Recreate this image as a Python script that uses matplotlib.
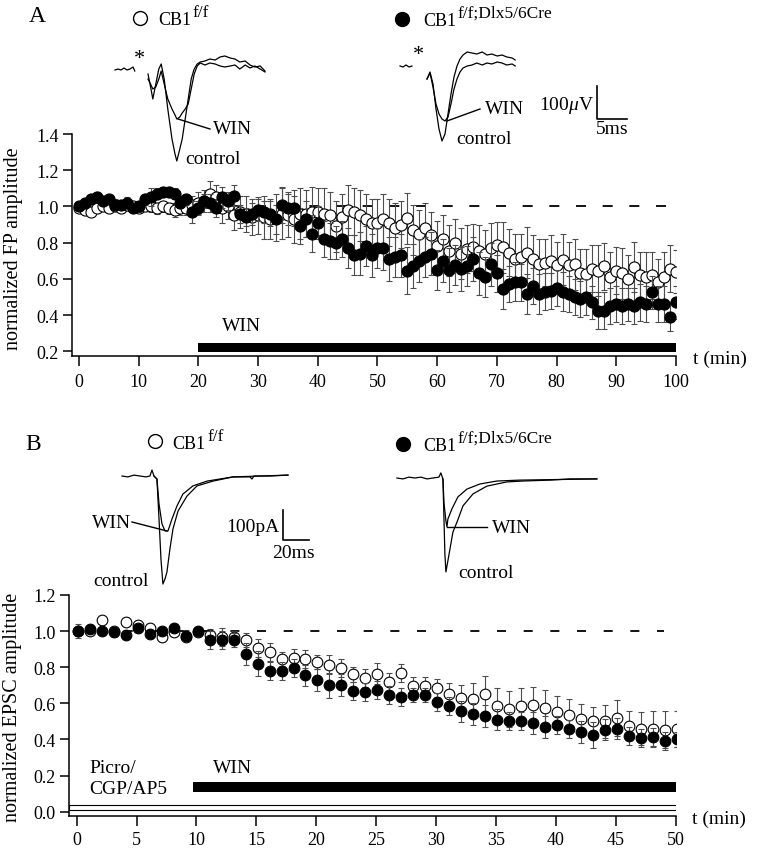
#!/usr/bin/env python
"""
Time course of normalized FP (A) and EPSC (B) amplitude during WIN application,
CB1 f/f (open) vs CB1 f/f;Dlx5/6Cre (filled), with sample traces on top.
"""
import sys
import matplotlib
matplotlib.use('Agg')
import matplotlib.pyplot as plt
from matplotlib.lines import Line2D

GOOD_RET = 0

# figure size in pixels
W = 757
H = 853

tick_font_size = 13
label_font_size = 14.5
text_font_size = 14
err_color = '#4d4d4d'

# ---------------- panel A: field potentials ----------------
a_time = list(range(101))  # min
a_ff = [0.99, 0.98, 0.97, 0.99, 1.00, 0.99, 1.00, 0.99, 1.01, 1.00,
        0.99, 1.00, 1.00, 0.99, 1.00, 0.99, 0.98, 0.99, 0.99, 1.01,
        1.02, 1.03, 1.07, 1.05, 0.99, 1.00, 0.95, 0.97, 0.96, 0.94,
        0.95, 0.94, 0.93, 0.94, 0.96, 0.95, 0.93, 0.96, 0.96, 0.97,
        0.97, 0.96, 0.95, 0.89, 0.94, 0.98, 0.97, 0.95, 0.93, 0.91,
        0.91, 0.93, 0.91, 0.88, 0.90, 0.935, 0.87, 0.85, 0.88, 0.84,
        0.78, 0.82, 0.755, 0.80, 0.74, 0.765, 0.775, 0.755, 0.74, 0.77,
        0.785, 0.775, 0.745, 0.71, 0.72, 0.745, 0.71, 0.68, 0.69, 0.70,
        0.675, 0.705, 0.675, 0.68, 0.635, 0.625, 0.655, 0.645, 0.67, 0.61,
        0.645, 0.63, 0.60, 0.665, 0.62, 0.61, 0.62, 0.58, 0.61, 0.655, 0.64]
a_ff_err = [0.02, 0.02, 0.02, 0.02, 0.02, 0.02, 0.02, 0.02, 0.03, 0.02,
            0.02, 0.02, 0.03, 0.03, 0.03, 0.03, 0.04, 0.04, 0.04, 0.05,
            0.06, 0.06, 0.07, 0.07, 0.08, 0.07, 0.08, 0.09, 0.10, 0.10,
            0.10, 0.12, 0.11, 0.13, 0.14, 0.12, 0.13, 0.14, 0.13, 0.14,
            0.13, 0.14, 0.13, 0.14, 0.13, 0.14, 0.13, 0.14, 0.14, 0.13,
            0.13, 0.14, 0.13, 0.14, 0.13, 0.14, 0.14, 0.13, 0.14, 0.13,
            0.14, 0.13, 0.14, 0.13, 0.14, 0.13, 0.13, 0.14, 0.13, 0.14,
            0.13, 0.14, 0.13, 0.14, 0.13, 0.14, 0.13, 0.14, 0.13, 0.14,
            0.13, 0.14, 0.13, 0.14, 0.13, 0.14, 0.13, 0.14, 0.13, 0.14,
            0.13, 0.14, 0.13, 0.14, 0.13, 0.14, 0.13, 0.13, 0.14, 0.13, 0.12]
a_cre = [1.00, 1.02, 1.04, 1.05, 1.03, 1.04, 1.01, 1.01, 1.02, 0.99,
         1.00, 1.04, 1.05, 1.07, 1.08, 1.08, 1.07, 1.02, 1.04, 0.97,
         0.99, 1.03, 1.02, 0.99, 1.05, 1.03, 1.06, 0.96, 0.94, 0.96,
         0.98, 0.97, 0.96, 0.93, 1.01, 0.99, 0.99, 0.89, 0.93, 0.85,
         0.91, 0.82, 0.81, 0.80, 0.82, 0.77, 0.73, 0.74, 0.78, 0.73,
         0.77, 0.77, 0.71, 0.72, 0.73, 0.645, 0.67, 0.70, 0.72, 0.74,
         0.65, 0.70, 0.65, 0.675, 0.655, 0.67, 0.71, 0.63, 0.61, 0.68,
         0.63, 0.545, 0.57, 0.585, 0.58, 0.515, 0.56, 0.515, 0.53, 0.535,
         0.55, 0.53, 0.515, 0.50, 0.49, 0.50, 0.47, 0.425, 0.425, 0.45,
         0.46, 0.45, 0.46, 0.45, 0.47, 0.46, 0.525, 0.46, 0.46, 0.39, 0.47]
a_cre_err = [0.02, 0.02, 0.02, 0.03, 0.02, 0.02, 0.03, 0.02, 0.03, 0.02,
             0.03, 0.03, 0.05, 0.03, 0.03, 0.03, 0.03, 0.03, 0.03, 0.06,
             0.04, 0.04, 0.05, 0.05, 0.06, 0.05, 0.06, 0.05, 0.05, 0.06,
             0.06, 0.06, 0.07, 0.08, 0.10, 0.09, 0.10, 0.10, 0.10, 0.10,
             0.09, 0.10, 0.10, 0.09, 0.10, 0.11, 0.11, 0.12, 0.11, 0.12,
             0.11, 0.12, 0.12, 0.11, 0.12, 0.13, 0.12, 0.12, 0.11, 0.12,
             0.11, 0.12, 0.12, 0.11, 0.12, 0.11, 0.12, 0.12, 0.11, 0.12,
             0.10, 0.11, 0.10, 0.11, 0.10, 0.11, 0.10, 0.11, 0.10, 0.10,
             0.10, 0.11, 0.10, 0.10, 0.10, 0.10, 0.09, 0.10, 0.10, 0.10,
             0.10, 0.10, 0.09, 0.10, 0.10, 0.10, 0.09, 0.10, 0.10, 0.08, 0.09]
a_win = [20, 100]  # WIN application, min
a_xticks = [0, 10, 20, 30, 40, 50, 60, 70, 80, 90, 100]
a_yticks = [0.2, 0.4, 0.6, 0.8, 1.0, 1.2, 1.4]

# sample FP traces (ms, uV); left = CB1 f/f, right = CB1 f/f;Dlx5/6Cre
a_pre_t = [0, 0.5, 1.0, 1.5, 2.0, 2.5, 3.0, 3.3]
a_pre_v = [0, 3, 0, 6, 0, 3, 9, -3]
a_left_t = [5.5, 6.0, 6.3, 6.8, 7.3, 7.7, 8.2, 8.8, 9.5, 10.0, 10.3, 10.8, 11.2, 11.7, 12.2, 12.7,
            13.2, 13.7, 14.2, 15.0, 15.8, 16.7, 17.5, 18.3, 19.2, 20.0, 20.8, 21.7, 22.5, 23.3, 24.2, 25.0]
a_left_ctrl = [-12, -57, -87, -42, 3, 18, -27, -117, -207, -252, -273, -237, -207, -147, -87, -27,
               3, 18, 24, 27, 33, 30, 39, 42, 36, 33, 24, 27, 15, 9, 12, -3]
a_left_win = [-27, -45, -57, -51, -27, -3, -42, -87, -117, -135, -147, -141, -129, -117, -102, -57,
              -12, 12, 21, 15, 21, 18, 12, 9, 12, 15, 3, 15, 6, 12, 3, -6]
a_rpre_t = [0, 0.5, 1.0, 1.5, 2.0]
a_rpre_v = [0, -3, 3, -3, 0]
a_right_t = [4.5, 5.0, 5.5, 6.0, 6.5, 7.0, 7.5, 8.0, 8.5, 9.0, 9.5, 10.0, 10.5, 11.2, 12.0, 12.8,
             13.7, 14.5, 15.3, 16.2, 17.0, 17.8, 18.7, 19.2]
a_right_ctrl = [-39, -18, -54, -129, -189, -225, -204, -144, -84, -33, 0, 21, 33, 42, 39, 36,
                42, 33, 36, 30, 33, 27, 24, 18]
a_right_win = [-39, -21, -63, -114, -144, -159, -165, -153, -114, -69, -39, -18, -6, 0, 3, 9,
               3, 9, 6, 12, 9, 3, 6, 0]
a_scale = [5, 100]  # ms, uV

# ---------------- panel B: EPSCs ----------------
b_time = [t + 0.1 for t in range(51)]  # min
b_ff = [1.00, 1.00, 1.06, 1.00, 1.05, 1.035, 1.02, 0.965, 0.995, 0.97,
        0.995, 0.98, 0.97, 0.97, 0.95, 0.905, 0.885, 0.845, 0.85, 0.845,
        0.83, 0.815, 0.795, 0.76, 0.74, 0.765, 0.72, 0.77, 0.695, 0.695,
        0.685, 0.65, 0.63, 0.625, 0.65, 0.585, 0.57, 0.585, 0.59, 0.575,
        0.55, 0.535, 0.515, 0.50, 0.50, 0.52, 0.475, 0.46, 0.46, 0.455, 0.46]
b_ff_err = [0.02, 0.02, 0.02, 0.02, 0.02, 0.02, 0.02, 0.02, 0.02, 0.02,
            0.02, 0.03, 0.05, 0.03, 0.04, 0.05, 0.05, 0.04, 0.05, 0.05,
            0.04, 0.05, 0.05, 0.04, 0.05, 0.06, 0.05, 0.05, 0.05, 0.05,
            0.05, 0.06, 0.07, 0.09, 0.10, 0.10, 0.10, 0.10, 0.10, 0.10,
            0.09, 0.09, 0.08, 0.08, 0.09, 0.10, 0.08, 0.09, 0.10, 0.10, 0.10]
b_cre = [1.00, 1.01, 1.00, 0.995, 0.98, 1.02, 0.985, 1.00, 1.015, 0.975,
         1.00, 0.95, 0.95, 0.95, 0.875, 0.82, 0.78, 0.78, 0.795, 0.755,
         0.73, 0.70, 0.70, 0.67, 0.665, 0.675, 0.645, 0.635, 0.645, 0.645,
         0.61, 0.585, 0.555, 0.54, 0.53, 0.51, 0.50, 0.50, 0.49, 0.47,
         0.48, 0.46, 0.44, 0.425, 0.455, 0.46, 0.42, 0.41, 0.415, 0.39, 0.40]
b_cre_err = [0.04, 0.02, 0.02, 0.03, 0.02, 0.02, 0.02, 0.02, 0.02, 0.03,
             0.02, 0.05, 0.05, 0.04, 0.06, 0.07, 0.05, 0.05, 0.05, 0.06,
             0.06, 0.07, 0.06, 0.05, 0.05, 0.05, 0.05, 0.05, 0.04, 0.04,
             0.05, 0.05, 0.06, 0.06, 0.06, 0.06, 0.05, 0.05, 0.06, 0.06,
             0.05, 0.05, 0.06, 0.07, 0.06, 0.06, 0.05, 0.05, 0.05, 0.05, 0.04]
b_win = [9.7, 50]  # min
b_drugs = [-0.6, 50]  # Picro/CGP/AP5, min
b_xticks = [0, 5, 10, 15, 20, 25, 30, 35, 40, 45, 50]
b_yticks = [0.0, 0.2, 0.4, 0.6, 0.8, 1.0, 1.2]

# sample EPSC traces (ms, pA)
b_left_t = [0, 4.6, 9.2, 13.8, 18.5, 21.5, 23.1, 24.6, 26.9, 28.5, 30, 31.5, 33.1, 34.6, 36.9, 39.2,
            43.1, 50, 57.7, 70, 85.4, 98.5, 100, 101.5, 113.8, 127.7]
b_left_ctrl = [0, -3, 3, 0, -3, 0, 20, 0, -10, -143, -277, -360, -343, -320, -243, -177,
               -117, -67, -33, -17, -3, -3, -10, 0, 0, 3]
b_left_win_t = [24.6, 26.9, 28.5, 30.8, 33.1, 35.4, 38.5, 42.3, 46.9, 54.6, 65.4, 85.4, 127.7]
b_left_win = [0, -10, -93, -160, -183, -183, -143, -100, -60, -33, -17, -3, 3]
b_right_t = [0, 4.6, 9.2, 13.8, 18.5, 23.1, 27.7, 32.3, 33.8, 35.4, 36.2, 36.9, 37.7, 40.8, 43.1,
             46.2, 50.8, 58.5, 69.2, 84.6, 96.9, 117.7, 133.1, 153.8]
b_right_ctrl = [0, -3, 3, 0, 3, -3, 0, 3, 17, -3, -137, -253, -313, -237, -180,
                -147, -93, -53, -27, -13, -10, -7, -3, -3]
b_right_win_t = [35.4, 36.2, 37.7, 38.5, 39.2, 42.3, 46.9, 53.8, 63.8, 76.9, 94.6, 153.8]
b_right_win = [-3, -83, -143, -163, -137, -103, -63, -37, -20, -10, -7, -3]
b_scale = [20, 100]  # ms, pA


def fx(x):
    return x / W


def fy(y):
    return 1.0 - y / H


def px_rect(x0, y0, x1, y1):
    return [fx(x0), fy(y1), (x1 - x0) / W, (y1 - y0) / H]


def put_text(fig, x, y, s, size=text_font_size, ha='left', va='center', **kw):
    fig.text(fx(x), fy(y), s, fontsize=size, ha=ha, va=va, **kw)


def put_line(fig, x0, y0, x1, y1, lw=1.0):
    fig.add_artist(Line2D([fx(x0), fx(x1)], [fy(y0), fy(y1)], color='k', lw=lw,
                          transform=fig.transFigure))


def put_marker(fig, x, y, filled):
    fig.add_artist(Line2D([fx(x)], [fy(y)], marker='o', ms=10, mec='k', mew=1.0,
                          mfc='k' if filled else 'w', transform=fig.transFigure))


def put_genotype(fig, x, y, sup, sup_dx):
    # "CB1" plus a raised genotype string
    put_text(fig, x, y, 'CB1', size=13, va='baseline')
    put_text(fig, x + sup_dx, y - 8, sup, size=12.5, va='baseline')


def plot_course(ax, t, y, err, filled, ms):
    z = 4 if filled else 3
    ax.errorbar(t, y, yerr=err, fmt='none', ecolor=err_color, elinewidth=0.8,
                capsize=2.2, capthick=0.8, zorder=z - 1)
    ax.plot(t, y, 'o', ms=ms, mec='k', mew=0.8, mfc='k' if filled else 'w',
            ls='none', zorder=z)


def style_axis(ax, xticks, yticks, xlim, ylim, xpad):
    ax.set_xlim(xlim)
    ax.set_ylim(ylim)
    ax.set_xticks(xticks)
    ax.set_yticks(yticks)
    ax.set_yticklabels(['%.1f' % v for v in yticks])
    for side in ['top', 'right']:
        ax.spines[side].set_visible(False)
    for side in ['left', 'bottom']:
        ax.spines[side].set_linewidth(1.1)
    ax.tick_params(axis='y', direction='out', length=6.5, width=1.1, pad=3,
                   labelsize=tick_font_size)
    ax.tick_params(axis='x', direction='out', length=7.5, width=1.1, pad=xpad,
                   labelsize=tick_font_size)


def panel_a(fig):
    ax = fig.add_axes(px_rect(72, 135, 676, 357))
    style_axis(ax, a_xticks, a_yticks, (-1.17, 100), (0.174, 1.4), 5)
    ax.plot([2.9, 98.5], [1.0, 1.0], color='k', lw=1.3, dashes=(7.2, 12), zorder=1)
    plot_course(ax, a_time, a_ff, a_ff_err, False, 8)
    plot_course(ax, a_time, a_cre, a_cre_err, True, 8)
    ax.barh(0.22, a_win[1] - a_win[0], left=a_win[0], height=0.05, color='k', zorder=5)

    put_text(fig, 14, 249, 'normalized FP amplitude', size=label_font_size, ha='center',
             rotation=90)
    put_text(fig, 693, 359, 't (min)', size=text_font_size)
    put_text(fig, 222, 327, 'WIN', size=text_font_size)
    put_text(fig, 37, 17, 'A', size=17, ha='center')

    # legend
    put_marker(fig, 140, 19, False)
    put_genotype(fig, 158, 25, 'f/f', 35)
    put_marker(fig, 402, 20, True)
    put_genotype(fig, 423, 26, 'f/f;Dlx5/6Cre', 35)

    # sample traces
    tr = fig.add_axes(px_rect(100, 40, 640, 170))
    tr.set_xlim(-2.5, 87.5)
    tr.set_ylim(-297, 93)
    tr.axis('off')
    lw = 0.9
    tr.plot(a_pre_t, a_pre_v, color='k', lw=lw)
    tr.plot(a_left_t, a_left_ctrl, color='k', lw=lw)
    tr.plot(a_left_t, a_left_win, color='k', lw=lw)
    off_t, off_v = 47.5, 12
    tr.plot([t + off_t for t in a_rpre_t], [v + off_v for v in a_rpre_v], color='k', lw=lw)
    tr.plot([t + off_t for t in a_right_t], [v + off_v for v in a_right_ctrl], color='k', lw=lw)
    tr.plot([t + off_t for t in a_right_t], [v + off_v for v in a_right_win], color='k', lw=lw)
    sb_t, sb_v = 80.3, -148
    tr.plot([sb_t, sb_t, sb_t + a_scale[0]], [sb_v + a_scale[1], sb_v, sb_v], color='k', lw=1.2)

    put_text(fig, 139, 59, '*', size=16, ha='center')
    put_text(fig, 418, 55, '*', size=16, ha='center')
    put_line(fig, 178, 120, 210, 130)
    put_text(fig, 213, 129, 'WIN')
    put_text(fig, 185, 160, 'control')
    put_line(fig, 447, 122, 480, 110)
    put_text(fig, 485, 110, 'WIN')
    put_text(fig, 456, 140, 'control')
    put_text(fig, 594, 106, r'100$\mu$V', ha='right')
    put_text(fig, 612, 130, '5ms', ha='center')


def panel_b(fig):
    ax = fig.add_axes(px_rect(69, 596, 675.7, 817))
    style_axis(ax, b_xticks, b_yticks, (-0.64, 50), (-0.024, 1.2), 3)
    ax.plot([1.73, 49.0], [1.0, 1.0], color='k', lw=1.3, dashes=(6.5, 12.7), zorder=1)
    plot_course(ax, b_time, b_ff, b_ff_err, False, 7.7)
    plot_course(ax, b_time, b_cre, b_cre_err, True, 7.7)
    ax.barh(0.138, b_win[1] - b_win[0], left=b_win[0], height=0.056, color='k', zorder=5)
    ax.barh(0.0245, b_drugs[1] - b_drugs[0], left=b_drugs[0], height=0.025, color='w',
            edgecolor='k', lw=0.8, zorder=5)

    put_text(fig, 13, 707, 'normalized EPSC amplitude', size=label_font_size, ha='center',
             rotation=90)
    put_text(fig, 692, 819, 't (min)', size=text_font_size)
    put_text(fig, 89, 769, 'Picro/', size=text_font_size)
    put_text(fig, 89, 790, 'CGP/AP5', size=text_font_size)
    put_text(fig, 213, 769, 'WIN', size=text_font_size)
    put_text(fig, 33, 445, 'B', size=17, ha='center')

    # legend
    put_marker(fig, 155, 442, False)
    put_genotype(fig, 172, 449, 'f/f', 35)
    put_marker(fig, 403, 445, True)
    put_genotype(fig, 423, 451, 'f/f;Dlx5/6Cre', 35)

    # sample traces
    tr = fig.add_axes(px_rect(110, 460, 620, 600))
    tr.set_xlim(-9.2, 383.1)
    tr.set_ylim(-410, 56.7)
    tr.axis('off')
    lw = 0.9
    tr.plot(b_left_t, b_left_ctrl, color='k', lw=lw)
    tr.plot(b_left_win_t, b_left_win, color='k', lw=lw)
    off_t, off_i = 211.5, -6.7
    tr.plot([t + off_t for t in b_right_t], [v + off_i for v in b_right_ctrl], color='k', lw=lw)
    tr.plot([t + off_t for t in b_right_win_t], [v + off_i for v in b_right_win], color='k', lw=lw)
    sb_t, sb_i = 123.8, -213
    tr.plot([sb_t, sb_t, sb_t + b_scale[0]], [sb_i + b_scale[1], sb_i, sb_i], color='k', lw=1.2)

    put_line(fig, 132, 523, 167, 532)
    put_text(fig, 92, 523, 'WIN')
    put_text(fig, 93, 582, 'control')
    put_line(fig, 447, 528, 487, 528)
    put_text(fig, 492, 529, 'WIN')
    put_text(fig, 458, 573, 'control')
    put_text(fig, 279, 527, '100pA', ha='right')
    put_text(fig, 293, 553, '20ms', ha='center')


def main():
    plt.rcParams['font.family'] = ['Liberation Serif', 'DejaVu Serif']
    plt.rcParams['mathtext.fontset'] = 'custom'
    plt.rcParams['mathtext.rm'] = 'Liberation Serif'
    plt.rcParams['mathtext.it'] = 'Liberation Serif:italic'
    plt.rcParams['lines.scale_dashes'] = False

    fig = plt.figure(figsize=(W / 100.0, H / 100.0), dpi=100)
    panel_a(fig)
    panel_b(fig)
    fig.savefig('out.png', dpi=100)
    return GOOD_RET


if __name__ == '__main__':
    status = main()
    sys.exit(status)
